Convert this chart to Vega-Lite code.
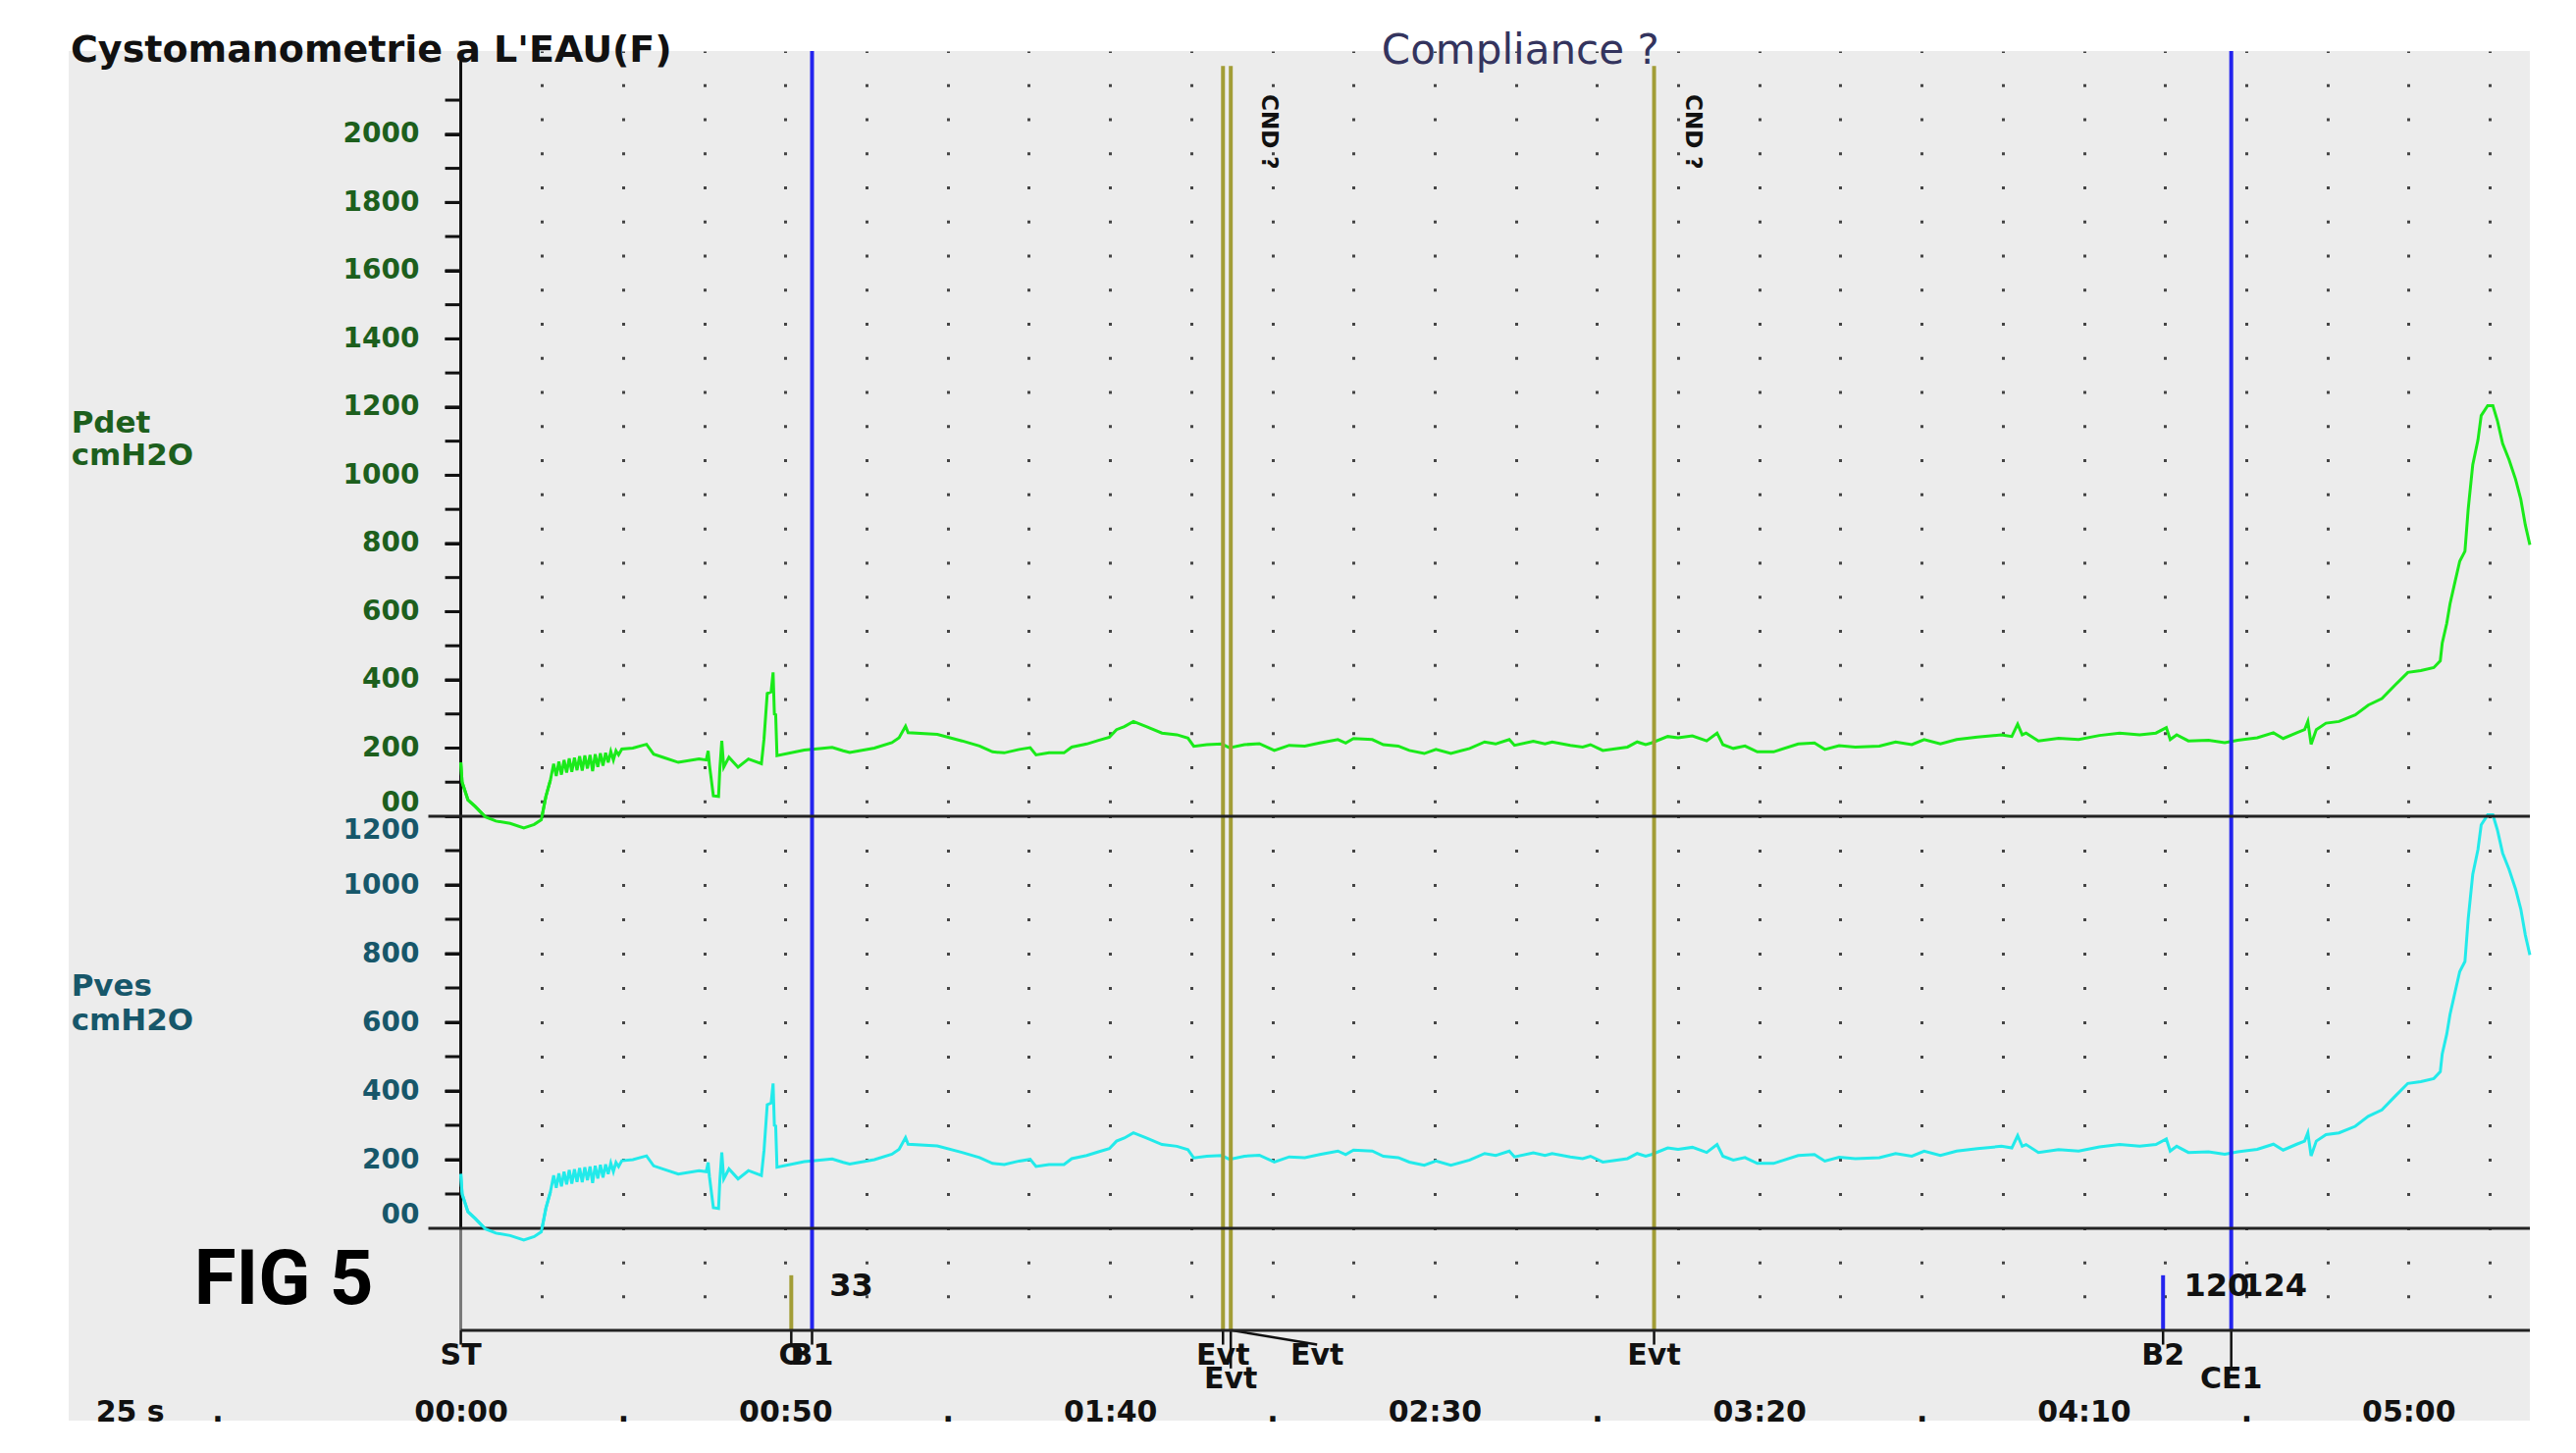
{
  "$schema": "https://vega.github.io/schema/vega-lite/v6.json",
  "background": "#ffffff",
  "padding": {"left": 70, "top": 31, "right": 47, "bottom": 33},
  "bounds": "flush",
  "spacing": 0,
  "config": {"view": {"stroke": null, "fill": "#ececec"}, "font": "DejaVu Sans"},
  "datasets": {
    "trace": [
      {"t":0,"pdet":158,"pves":158},{"t":0.2,"pdet":100,"pves":100},{"t":1.1,"pdet":48,"pves":48},{"t":2.2,"pdet":29,"pves":29},
      {"t":3.8,"pdet":-2,"pves":-2},{"t":5.4,"pdet":-14,"pves":-14},{"t":7.6,"pdet":-21,"pves":-21},{"t":9.7,"pdet":-34,"pves":-34},
      {"t":11.3,"pdet":-24,"pves":-24},{"t":12.4,"pdet":-10,"pves":-10},{"t":13.1,"pdet":58,"pves":58},{"t":13.8,"pdet":106,"pves":106},
      {"t":14.3,"pdet":154,"pves":154},{"t":14.7,"pdet":118,"pves":118},{"t":15.1,"pdet":160,"pves":160},{"t":15.5,"pdet":122,"pves":122},
      {"t":15.9,"pdet":165,"pves":165},{"t":16.3,"pdet":128,"pves":128},{"t":16.7,"pdet":170,"pves":170},{"t":17.1,"pdet":130,"pves":130},
      {"t":17.5,"pdet":172,"pves":172},{"t":17.9,"pdet":135,"pves":135},{"t":18.3,"pdet":176,"pves":176},{"t":18.7,"pdet":134,"pves":134},
      {"t":19.1,"pdet":178,"pves":178},{"t":19.5,"pdet":140,"pves":140},{"t":19.9,"pdet":180,"pves":180},{"t":20.3,"pdet":132,"pves":132},
      {"t":20.7,"pdet":182,"pves":182},{"t":21.1,"pdet":145,"pves":145},{"t":21.5,"pdet":185,"pves":185},{"t":21.9,"pdet":148,"pves":148},
      {"t":22.3,"pdet":186,"pves":186},{"t":22.7,"pdet":158,"pves":158},{"t":23.1,"pdet":190,"pves":190},{"t":23.5,"pdet":165,"pves":165},
      {"t":23.9,"pdet":192,"pves":192},{"t":24.3,"pdet":180,"pves":180},{"t":24.8,"pdet":197,"pves":197},{"t":26.5,"pdet":200,"pves":200},
      {"t":28.6,"pdet":211,"pves":211},{"t":29.7,"pdet":182,"pves":182},{"t":31.3,"pdet":172,"pves":172},{"t":33.5,"pdet":158,"pves":158},
      {"t":36.7,"pdet":168,"pves":168},{"t":37.8,"pdet":165,"pves":165},{"t":38.1,"pdet":192,"pves":192},{"t":38.3,"pdet":150,"pves":150},
      {"t":38.9,"pdet":60,"pves":60},{"t":39.7,"pdet":58,"pves":58},{"t":39.9,"pdet":140,"pves":140},{"t":40.2,"pdet":221,"pves":221},
      {"t":40.5,"pdet":144,"pves":144},{"t":41.3,"pdet":173,"pves":173},{"t":42.7,"pdet":144,"pves":144},{"t":44.3,"pdet":168,"pves":168},
      {"t":46.3,"pdet":154,"pves":154},{"t":46.7,"pdet":226,"pves":226},{"t":47.2,"pdet":360,"pves":360},{"t":47.8,"pdet":365,"pves":365},
      {"t":48.1,"pdet":422,"pves":422},{"t":48.3,"pdet":300,"pves":300},{"t":48.5,"pdet":298,"pves":298},{"t":48.7,"pdet":178,"pves":178},
      {"t":52.9,"pdet":194,"pves":194},{"t":54.5,"pdet":197,"pves":197},{"t":57.2,"pdet":202,"pves":202},{"t":58.9,"pdet":192,"pves":192},
      {"t":59.9,"pdet":187,"pves":187},{"t":63.7,"pdet":200,"pves":200},{"t":66.4,"pdet":216,"pves":216},{"t":67.5,"pdet":230,"pves":230},
      {"t":68.5,"pdet":264,"pves":264},{"t":68.9,"pdet":245,"pves":245},{"t":73.4,"pdet":240,"pves":240},{"t":77.2,"pdet":221,"pves":221},
      {"t":79.9,"pdet":206,"pves":206},{"t":81.9,"pdet":189,"pves":189},{"t":83.7,"pdet":186,"pves":186},{"t":86.0,"pdet":196,"pves":196},
      {"t":87.7,"pdet":201,"pves":201},{"t":88.6,"pdet":180,"pves":180},{"t":90.6,"pdet":186,"pves":186},{"t":92.9,"pdet":186,"pves":186},
      {"t":94.1,"pdet":203,"pves":203},{"t":96.4,"pdet":212,"pves":212},{"t":98.1,"pdet":222,"pves":222},{"t":99.9,"pdet":232,"pves":232},
      {"t":101.0,"pdet":254,"pves":254},{"t":102.2,"pdet":263,"pves":263},{"t":103.6,"pdet":278,"pves":278},{"t":105.6,"pdet":263,"pves":263},
      {"t":108.0,"pdet":244,"pves":244},{"t":110.3,"pdet":239,"pves":239},{"t":112.0,"pdet":229,"pves":229},{"t":112.9,"pdet":205,"pves":205},
      {"t":114.9,"pdet":210,"pves":210},{"t":117.2,"pdet":212,"pves":212},{"t":118.4,"pdet":201,"pves":201},{"t":120.7,"pdet":210,"pves":210},
      {"t":123.0,"pdet":213,"pves":213},{"t":125.3,"pdet":193,"pves":193},{"t":127.6,"pdet":208,"pves":208},{"t":130.0,"pdet":206,"pves":206},
      {"t":132.3,"pdet":215,"pves":215},{"t":135.1,"pdet":225,"pves":225},{"t":136.3,"pdet":215,"pves":215},{"t":137.5,"pdet":228,"pves":228},
      {"t":140.4,"pdet":225,"pves":225},{"t":142.1,"pdet":210,"pves":210},{"t":144.4,"pdet":206,"pves":206},{"t":146.1,"pdet":193,"pves":193},
      {"t":148.4,"pdet":184,"pves":184},{"t":150.2,"pdet":196,"pves":196},{"t":152.5,"pdet":184,"pves":184},{"t":155.4,"pdet":199,"pves":199},
      {"t":157.7,"pdet":218,"pves":218},{"t":159.4,"pdet":212,"pves":212},{"t":161.5,"pdet":225,"pves":225},{"t":162.3,"pdet":208,"pves":208},
      {"t":165.2,"pdet":220,"pves":220},{"t":167.0,"pdet":212,"pves":212},{"t":168.1,"pdet":218,"pves":218},{"t":170.9,"pdet":208,"pves":208},
      {"t":172.8,"pdet":203,"pves":203},{"t":174.0,"pdet":210,"pves":210},{"t":175.9,"pdet":193,"pves":193},{"t":179.7,"pdet":203,"pves":203},
      {"t":181.2,"pdet":218,"pves":218},{"t":182.5,"pdet":210,"pves":210},{"t":183.4,"pdet":215,"pves":215},{"t":185.9,"pdet":234,"pves":234},
      {"t":187.5,"pdet":230,"pves":230},{"t":189.7,"pdet":236,"pves":236},{"t":191.9,"pdet":221,"pves":221},{"t":193.5,"pdet":244,"pves":244},
      {"t":194.4,"pdet":210,"pves":210},{"t":196.0,"pdet":199,"pves":199},{"t":197.8,"pdet":206,"pves":206},{"t":199.7,"pdet":189,"pves":189},
      {"t":202.2,"pdet":189,"pves":189},{"t":206.0,"pdet":212,"pves":212},{"t":208.5,"pdet":215,"pves":215},{"t":210.1,"pdet":196,"pves":196},
      {"t":212.3,"pdet":207,"pves":207},{"t":214.8,"pdet":203,"pves":203},{"t":218.5,"pdet":206,"pves":206},{"t":221.0,"pdet":218,"pves":218},
      {"t":223.5,"pdet":210,"pves":210},{"t":225.4,"pdet":225,"pves":225},{"t":227.9,"pdet":212,"pves":212},{"t":230.4,"pdet":225,"pves":225},
      {"t":233.6,"pdet":232,"pves":232},{"t":237.3,"pdet":239,"pves":239},{"t":238.9,"pdet":234,"pves":234},{"t":239.8,"pdet":270,"pves":270},
      {"t":240.5,"pdet":239,"pves":239},{"t":241.1,"pdet":244,"pves":244},{"t":243.0,"pdet":221,"pves":221},{"t":246.1,"pdet":229,"pves":229},
      {"t":249.2,"pdet":225,"pves":225},{"t":252.4,"pdet":237,"pves":237},{"t":255.5,"pdet":244,"pves":244},{"t":258.6,"pdet":239,"pves":239},
      {"t":261.1,"pdet":244,"pves":244},{"t":262.7,"pdet":260,"pves":260},{"t":263.3,"pdet":225,"pves":225},{"t":264.3,"pdet":239,"pves":239},
      {"t":266.1,"pdet":221,"pves":221},{"t":269.2,"pdet":223,"pves":223},{"t":271.7,"pdet":216,"pves":216},{"t":273.7,"pdet":223,"pves":223},
      {"t":276.7,"pdet":230,"pves":230},{"t":279.2,"pdet":245,"pves":245},{"t":280.7,"pdet":228,"pves":228},{"t":282.8,"pdet":245,"pves":245},
      {"t":284.0,"pdet":254,"pves":254},{"t":284.5,"pdet":278,"pves":278},{"t":285.0,"pdet":211,"pves":211},{"t":285.8,"pdet":254,"pves":254},
      {"t":287.3,"pdet":273,"pves":273},{"t":289.3,"pdet":278,"pves":278},{"t":291.8,"pdet":297,"pves":297},{"t":293.8,"pdet":326,"pves":326},
      {"t":295.9,"pdet":345,"pves":345},{"t":297.9,"pdet":384,"pves":384},{"t":299.9,"pdet":422,"pves":422},{"t":301.9,"pdet":427,"pves":427},
      {"t":303.9,"pdet":436,"pves":436},{"t":304.9,"pdet":456,"pves":456},{"t":305.2,"pdet":508,"pves":508},{"t":305.9,"pdet":566,"pves":566},
      {"t":306.4,"pdet":623,"pves":623},{"t":307.2,"pdet":690,"pves":690},{"t":307.9,"pdet":748,"pves":748},{"t":308.7,"pdet":777,"pves":777},
      {"t":309.2,"pdet":901,"pves":901},{"t":309.9,"pdet":1031,"pves":1031},{"t":310.7,"pdet":1103,"pves":1103},{"t":311.2,"pdet":1175,"pves":1175},
      {"t":312.2,"pdet":1204,"pves":1204},{"t":313.0,"pdet":1204,"pves":1204},{"t":313.7,"pdet":1160,"pves":1160},{"t":314.5,"pdet":1093,"pves":1093},
      {"t":315.5,"pdet":1045,"pves":1045},{"t":316.5,"pdet":988,"pves":988},{"t":317.3,"pdet":930,"pves":930},{"t":318.0,"pdet":854,"pves":854},
      {"t":318.7,"pdet":796,"pves":796}
    ],
    "events": [
      {"t": 54.1, "kind": "blue", "span": "full", "h": 3},
      {"t": 117.4, "kind": "olive", "span": "full", "h": 3},
      {"t": 118.6, "kind": "olive", "span": "full", "h": 3},
      {"t": 183.8, "kind": "olive", "span": "full", "h": 3},
      {"t": 272.7, "kind": "blue", "span": "full", "h": 3},
      {"t": 50.9, "kind": "olive", "span": "lane", "h": 1.62},
      {"t": 262.2, "kind": "blue", "span": "lane", "h": 1.62}
    ],
    "eventLabels": [
      {"t": 0, "lx": 0, "depth": -0.42, "label": "ST"},
      {"t": 50.9, "lx": 50.9, "depth": -0.42, "label": "O"},
      {"t": 54.1, "lx": 54.1, "depth": -0.42, "label": "B1"},
      {"t": 117.4, "lx": 117.4, "depth": -0.42, "label": "Evt"},
      {"t": 118.6, "lx": 118.6, "depth": -1.12, "label": "Evt"},
      {"t": 118.8, "lx": 131.9, "depth": -0.42, "label": "Evt"},
      {"t": 183.8, "lx": 183.8, "depth": -0.42, "label": "Evt"},
      {"t": 262.2, "lx": 262.2, "depth": -0.42, "label": "B2"},
      {"t": 272.7, "lx": 272.7, "depth": -1.12, "label": "CE1"}
    ],
    "volumes": [
      {"t": 56.8, "lane": 1.31, "label": "33"},
      {"t": 265.4, "lane": 1.31, "label": "120"},
      {"t": 274.3, "lane": 1.31, "label": "124"}
    ]
  },
  "vconcat": [
    {
      "width": 2508,
      "height": 780,
      "layer": [
        {
          "data": {"name": "trace"},
          "mark": {"type": "line", "color": "#1aea1a", "strokeWidth": 3},
          "encoding": {
            "x": {"field": "t", "type": "quantitative", "title": null,
              "scale": {"domain": [-60.4, 318.7], "nice": false, "zero": false},
              "axis": {"values": [12.5,25,37.5,50,62.5,75,87.5,100,112.5,125,137.5,150,162.5,175,187.5,200,212.5,225,237.5,250,262.5,275,287.5,300,312.5],
                "grid": true, "gridColor": "#444444", "gridWidth": 3, "gridDash": [3, 31.7594], "gridDashOffset": 1.5,
                "labels": false, "ticks": false, "domain": false, "title": null}},
            "y": {"field": "pdet", "type": "quantitative", "title": null,
              "scale": {"domain": [0, 2244], "nice": false, "zero": false},
              "axis": {"orient": "left", "offset": -399, "values": [0,100,200,300,400,500,600,700,800,900,1000,1100,1200,1300,1400,1500,1600,1700,1800,1900,2000,2100],
                "format": "d", "labelExpr": "datum.value % 200 == 0 ? (datum.value == 0 ? '00' : datum.label) : ''",
                "grid": false, "ticks": true, "domain": true, "domainColor": "#111111", "domainWidth": 3, "tickColor": "#111111", "tickWidth": 3, "tickSize": 16,
                "labelColor": "#1d5f1d", "labelFont": "DejaVu Sans", "labelFontWeight": "bold", "labelFontSize": 28, "labelPadding": 26,
                "labelFlush": true, "labelOverlap": false, "title": null}}
          }
        },
        {
          "data": {"values": [{"v":100},{"v":200},{"v":300},{"v":400},{"v":500},{"v":600},{"v":700},{"v":800},{"v":900},{"v":1000},{"v":1100},{"v":1200},{"v":1300},{"v":1400},{"v":1500},{"v":1600},{"v":1700},{"v":1800},{"v":1900},{"v":2000},{"v":2100}]},
          "mark": {"type": "rule", "strokeWidth": 3, "color": "#111111"},
          "encoding": {"x": {"datum": -2.42, "type": "quantitative", "title": null}, "x2": {"datum": 0}, "y": {"field": "v", "type": "quantitative", "title": null}}
        },
        {
          "data": {"name": "events"},
          "transform": [{"filter": "datum.span == 'full' && datum.kind == 'blue'"}],
          "mark": {"type": "rule", "strokeWidth": 4, "color": "#2424ee"},
          "encoding": {"x": {"field": "t", "type": "quantitative", "title": null}}
        },
        {
          "data": {"name": "events"},
          "transform": [{"filter": "datum.span == 'full' && datum.kind == 'olive'"}],
          "mark": {"type": "rule", "strokeWidth": 4, "color": "#a29d36"},
          "encoding": {
            "x": {"field": "t", "type": "quantitative", "title": null},
            "y": {"datum": 0, "type": "quantitative", "title": null},
            "y2": {"datum": 2200}
          }
        },
        {
          "data": {"values": [{"label": "Cystomanometrie  a L'EAU(F)"}]},
          "mark": {"type": "text", "align": "left", "baseline": "middle", "fontSize": 38, "fontWeight": "bold", "color": "#111111", "font": "DejaVu Sans"},
          "encoding": {"x": {"datum": -60.1, "type": "quantitative", "title": null}, "y": {"datum": 2244, "type": "quantitative", "title": null}, "text": {"field": "label"}}
        },
        {
          "data": {"values": [{"label": "Compliance ?"}]},
          "mark": {"type": "text", "align": "center", "baseline": "middle", "fontSize": 42, "color": "#34345e", "font": "DejaVu Sans"},
          "encoding": {"x": {"datum": 163.2, "type": "quantitative", "title": null}, "y": {"datum": 2244, "type": "quantitative", "title": null}, "text": {"field": "label"}}
        },
        {
          "data": {"values": [{"t": 124.5, "v": 2007, "label": "CND ?"}, {"t": 189.8, "v": 2007, "label": "CND ?"}]},
          "mark": {"type": "text", "align": "center", "baseline": "middle", "angle": 90, "fontSize": 23, "fontWeight": "bold", "color": "#111111", "font": "DejaVu Sans"},
          "encoding": {"x": {"field": "t", "type": "quantitative", "title": null}, "y": {"field": "v", "type": "quantitative", "title": null}, "text": {"field": "label"}}
        },
        {
          "data": {"values": [{"v": 1151, "label": "Pdet"}, {"v": 1056, "label": "cmH2O"}]},
          "mark": {"type": "text", "align": "left", "baseline": "middle", "fontSize": 31, "fontWeight": "bold", "color": "#1d5f1d", "font": "DejaVu Sans"},
          "encoding": {"x": {"datum": -60.0, "type": "quantitative", "title": null}, "y": {"field": "v", "type": "quantitative", "title": null}, "text": {"field": "label"}}
        }
      ]
    },
    {
      "width": 2508,
      "height": 420,
      "resolve": {"scale": {"y": "independent"}},
      "layer": [
        {
          "layer": [
            {
              "data": {"name": "trace"},
              "mark": {"type": "line", "color": "#22eaea", "strokeWidth": 3},
              "encoding": {
                "x": {"field": "t", "type": "quantitative", "title": null,
                  "scale": {"domain": [-60.4, 318.7], "nice": false, "zero": false},
                  "axis": {"values": [12.5,25,37.5,50,62.5,75,87.5,100,112.5,125,137.5,150,162.5,175,187.5,200,212.5,225,237.5,250,262.5,275,287.5,300,312.5],
                    "grid": true, "gridColor": "#444444", "gridWidth": 3, "gridDash": [3, 32], "gridDashOffset": 1.5,
                    "labels": false, "ticks": false, "domain": false, "title": null}},
                "y": {"field": "pves", "type": "quantitative", "title": null,
                  "scale": {"domain": [0, 1200], "nice": false, "zero": false},
                  "axis": {"orient": "left", "offset": -399, "values": [0,100,200,300,400,500,600,700,800,900,1000,1100,1200],
                    "format": "d", "labelExpr": "datum.value % 200 == 0 ? (datum.value == 0 ? '00' : datum.label) : ''",
                    "grid": false, "ticks": true, "domain": true, "domainColor": "#111111", "domainWidth": 3, "tickColor": "#111111", "tickWidth": 3, "tickSize": 16,
                    "labelColor": "#17576a", "labelFont": "DejaVu Sans", "labelFontWeight": "bold", "labelFontSize": 28, "labelPadding": 26,
                    "labelFlush": true, "labelOverlap": false, "title": null}}
              }
            },
            {
              "data": {"values": [{"v":100},{"v":200},{"v":300},{"v":400},{"v":500},{"v":600},{"v":700},{"v":800},{"v":900},{"v":1000},{"v":1100}]},
              "mark": {"type": "rule", "strokeWidth": 3, "color": "#111111"},
              "encoding": {"x": {"datum": -2.42, "type": "quantitative", "title": null}, "x2": {"datum": 0}, "y": {"field": "v", "type": "quantitative", "title": null}}
            },
            {
              "data": {"name": "events"},
              "transform": [{"filter": "datum.span == 'full'"}],
              "mark": {"type": "rule", "strokeWidth": 4},
              "encoding": {
                "x": {"field": "t", "type": "quantitative", "title": null},
                "color": {"field": "kind", "type": "nominal", "scale": {"domain": ["blue", "olive"], "range": ["#2424ee", "#a29d36"]}, "legend": null}
              }
            },
            {
              "data": {"values": [{"x0": -5, "x1": 318.7, "y0": 1200}]},
              "mark": {"type": "rule", "strokeWidth": 3, "color": "#222222"},
              "encoding": {"x": {"field": "x0", "type": "quantitative", "title": null}, "x2": {"field": "x1"}, "y": {"field": "y0", "type": "quantitative", "title": null}}
            },
            {
              "data": {"values": [{"v": 703, "label": "Pves"}, {"v": 603, "label": "cmH2O"}]},
              "mark": {"type": "text", "align": "left", "baseline": "middle", "fontSize": 31, "fontWeight": "bold", "color": "#17576a", "font": "DejaVu Sans"},
              "encoding": {"x": {"datum": -60.0, "type": "quantitative", "title": null}, "y": {"field": "v", "type": "quantitative", "title": null}, "text": {"field": "label"}}
            }
          ]
        },
        {
          "data": {"name": "trace"},
          "transform": [{"filter": "datum.t <= 14"}],
          "mark": {"type": "line", "color": "#1aea1a", "strokeWidth": 3},
          "encoding": {
            "x": {"field": "t", "type": "quantitative", "title": null},
            "y": {"field": "pdet", "type": "quantitative", "scale": {"domain": [-1208.3, 0], "nice": false, "zero": false}, "axis": null}
          }
        }
      ]
    },
    {
      "width": 2508,
      "height": 104,
      "resolve": {"scale": {"y": "independent"}},
      "layer": [
        {
          "layer": [
            {
              "data": {"name": "events"},
              "transform": [{"filter": "datum.span == 'lane'"}],
              "mark": {"type": "rule", "strokeWidth": 4},
              "encoding": {
                "x": {"field": "t", "type": "quantitative", "title": null,
                  "scale": {"domain": [-60.4, 318.7], "nice": false, "zero": false},
                  "axis": {"values": [12.5,25,37.5,50,62.5,75,87.5,100,112.5,125,137.5,150,162.5,175,187.5,200,212.5,225,237.5,250,262.5,275,287.5,300,312.5],
                    "grid": true, "gridColor": "#444444", "gridWidth": 3, "gridDash": [3, 31.667], "gridDashOffset": 1.5,
                    "labels": false, "ticks": false, "domain": false, "title": null}},
                "y": {"field": "h", "type": "quantitative", "title": null, "scale": {"domain": [0, 3], "nice": false, "zero": false},
                  "axis": {"orient": "left", "offset": -399, "values": [], "grid": false, "ticks": false, "labels": false, "domainColor": "#7a7a7a", "domainWidth": 3, "title": null}},
                "y2": {"datum": 0},
                "color": {"field": "kind", "type": "nominal", "scale": {"domain": ["blue", "olive"], "range": ["#2424ee", "#a29d36"]}, "legend": null}
              }
            },
            {
              "data": {"name": "events"},
              "transform": [{"filter": "datum.span == 'full'"}],
              "mark": {"type": "rule", "strokeWidth": 4},
              "encoding": {
                "x": {"field": "t", "type": "quantitative", "title": null},
                "color": {"field": "kind", "type": "nominal", "scale": {"domain": ["blue", "olive"], "range": ["#2424ee", "#a29d36"]}, "legend": null}
              }
            },
            {
              "data": {"values": [{"x0": -5, "x1": 318.7, "y0": 3}]},
              "mark": {"type": "rule", "strokeWidth": 3, "color": "#222222"},
              "encoding": {"x": {"field": "x0", "type": "quantitative", "title": null}, "x2": {"field": "x1"}, "y": {"field": "y0", "type": "quantitative", "title": null}}
            },
            {
              "data": {"name": "volumes"},
              "mark": {"type": "text", "align": "left", "baseline": "middle", "fontSize": 32, "fontWeight": "bold", "color": "#111111", "font": "DejaVu Sans"},
              "encoding": {"x": {"field": "t", "type": "quantitative", "title": null}, "y": {"field": "lane", "type": "quantitative", "title": null}, "text": {"field": "label"}}
            },
            {
              "data": {"values": [{"label": "FIG 5"}]},
              "mark": {"type": "text", "align": "left", "baseline": "middle", "fontSize": 78, "fontWeight": "bold", "color": "#000000", "font": "Roboto"},
              "encoding": {"x": {"datum": -41.1, "type": "quantitative", "title": null}, "y": {"datum": 1.45, "type": "quantitative", "title": null}, "text": {"field": "label"}}
            }
          ]
        },
        {
          "data": {"name": "trace"},
          "transform": [{"filter": "datum.t <= 14"}],
          "mark": {"type": "line", "color": "#22eaea", "strokeWidth": 3},
          "encoding": {
            "x": {"field": "t", "type": "quantitative", "title": null},
            "y": {"field": "pves", "type": "quantitative", "scale": {"domain": [-297.14, 0], "nice": false, "zero": false}, "axis": null}
          }
        }
      ]
    },
    {
      "width": 2508,
      "height": 92,
      "layer": [
        {
          "data": {"name": "eventLabels"},
          "mark": {"type": "rule", "strokeWidth": 2.5, "color": "#111111"},
          "encoding": {
            "x": {"field": "lx", "type": "quantitative", "title": null,
              "scale": {"domain": [-60.4, 318.7], "nice": false, "zero": false},
              "axis": {"orient": "bottom", "offset": -24, "values": [-51,-37.5,0,25,50,75,100,125,150,175,200,225,250,275,300],
                "labelExpr": "datum.value < -40 ? '25 s' : (datum.value % 50 == 0 ? format(floor(datum.value / 60), '02d') + ':' + format(datum.value % 60, '02d') : '.')",
                "labelFont": "DejaVu Sans", "labelFontWeight": "bold", "labelFontSize": 30, "labelColor": "#111111",
                "labelPadding": 0, "labelBaseline": "top", "ticks": false, "tickSize": 0, "domain": false, "grid": false,
                "labelOverlap": false, "labelFlush": false, "labelBound": false, "title": null}},
            "x2": {"field": "t"},
            "y": {"field": "depth", "type": "quantitative", "title": null, "scale": {"domain": [-2.654, 0], "nice": false, "zero": false}, "axis": null},
            "y2": {"datum": 0}
          }
        },
        {
          "data": {"name": "eventLabels"},
          "mark": {"type": "text", "align": "center", "baseline": "top", "dy": -3.5, "fontSize": 30, "fontWeight": "bold", "color": "#111111", "font": "DejaVu Sans"},
          "encoding": {
            "x": {"field": "lx", "type": "quantitative", "title": null},
            "y": {"field": "depth", "type": "quantitative", "title": null, "axis": null},
            "text": {"field": "label"}
          }
        },
        {
          "data": {"values": [{"x0": 0, "x1": 318.7, "y0": 0}]},
          "mark": {"type": "rule", "strokeWidth": 3, "color": "#222222"},
          "encoding": {"x": {"field": "x0", "type": "quantitative", "title": null}, "x2": {"field": "x1"}, "y": {"field": "y0", "type": "quantitative", "title": null, "axis": null}}
        }
      ]
    }
  ]
}
